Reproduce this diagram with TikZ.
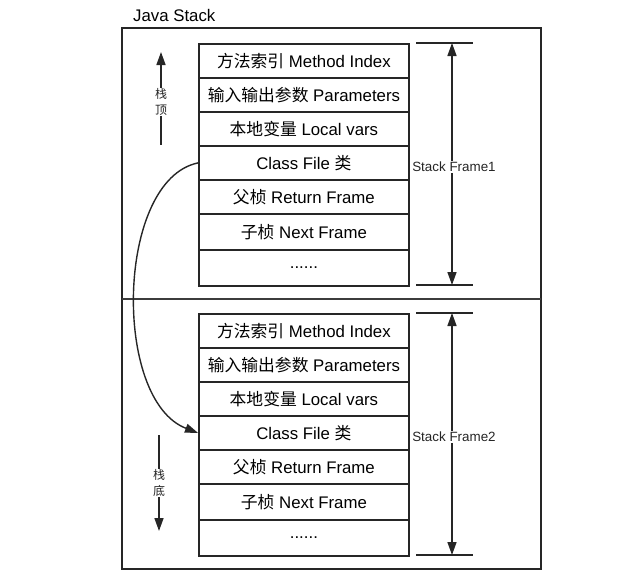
\documentclass[tikz,border=0pt]{standalone}
\usepackage{fontspec}
\setmainfont{Liberation Sans}
\newfontfamily\cjk{Noto Sans CJK SC}
\usetikzlibrary{arrows.meta}

\definecolor{ink}{HTML}{262626}

\begin{document}
\begin{tikzpicture}[x=1pt,y=-1pt,
  cell/.style={draw=ink, line width=1.8pt, minimum width=210pt, inner sep=0pt,
    font=\fontsize{16.8}{19}\selectfont, anchor=north west},
  frameline/.style={draw=ink, line width=1.8pt},
  dimarrow/.style={draw=ink, line width=1.6pt, -{Triangle[length=13pt,width=9pt]}},
  dimlabel/.style={fill=white, inner sep=1pt, font=\fontsize{13.4}{15}\selectfont, text=ink},
  sidelabel/.style={fill=white, inner sep=1pt, align=center, font=\cjk\fontsize{12}{15.5}\selectfont, text=ink}
]
\useasboundingbox (0,0) rectangle (633,579);

% title and outer stack container
\node[anchor=west, inner sep=0pt, font=\fontsize{16.8}{19}\selectfont] (title) at (133,15) {Java Stack};
\draw[frameline] (122,28) rectangle (541,569);
\draw[draw=ink!90, line width=1.6pt] (122,299) -- (541,299);

% one stack frame: rows stacked from the top
\foreach \f/\top in {1/43, 2/313} {
  \node[cell, minimum height=34pt] (m\f) at (198,\top) {\cjk 方法索引\normalfont\ Method Index};
  \node[cell, minimum height=34pt] (p\f) at (198,\top+34) {\cjk 输入输出参数\normalfont\ Parameters};
  \node[cell, minimum height=34pt] (l\f) at (198,\top+68) {\cjk 本地变量\normalfont\ Local vars};
  \node[cell, minimum height=34pt] (c\f) at (198,\top+102) {Class File {\cjk 类}};
  \node[cell, minimum height=34pt] (r\f) at (198,\top+136) {{\cjk 父桢}\ Return Frame};
  \node[cell, minimum height=36pt] (n\f) at (198,\top+170) {{\cjk 子桢}\ Next Frame};
  \node[cell, minimum height=36pt] (d\f) at (198,\top+206) {......};

  % frame extent marker
  \coordinate (t\f) at (452,\top);
  \coordinate (b\f) at (452,\top+242);
  \draw[frameline] (416,\top) -- (473,\top);
  \draw[frameline] (416,\top+242) -- (473,\top+242);
  \node[dimlabel] (s\f) at (454,\top+124) {Stack Frame\f};
  \draw[dimarrow] (s\f.north -| t\f) -- (t\f);
  \draw[dimarrow] (s\f.south -| b\f) -- (b\f);
}

% direction markers: top and bottom of the stack
\node[sidelabel] (top) at (161,102) {栈\\顶};
\coordinate (topA) at (161,52);
\coordinate (topB) at (161,145);
\draw[dimarrow] (top.north) -- (topA);
\draw[draw=ink, line width=1.6pt] (top.south) -- (topB);

\node[sidelabel] (bot) at (159,483) {栈\\底};
\coordinate (botA) at (159,435);
\coordinate (botB) at (159,531);
\draw[draw=ink, line width=1.6pt] (bot.north) -- (botA);
\draw[dimarrow] (bot.south) -- (botB);

% class file reference carried into the next frame
\draw[draw=ink, line width=1.4pt, -{Triangle[length=13pt,width=9pt]}]
  (c1.west) .. controls (116,180) and (112,400) .. (c2.west);

\end{tikzpicture}
\end{document}
